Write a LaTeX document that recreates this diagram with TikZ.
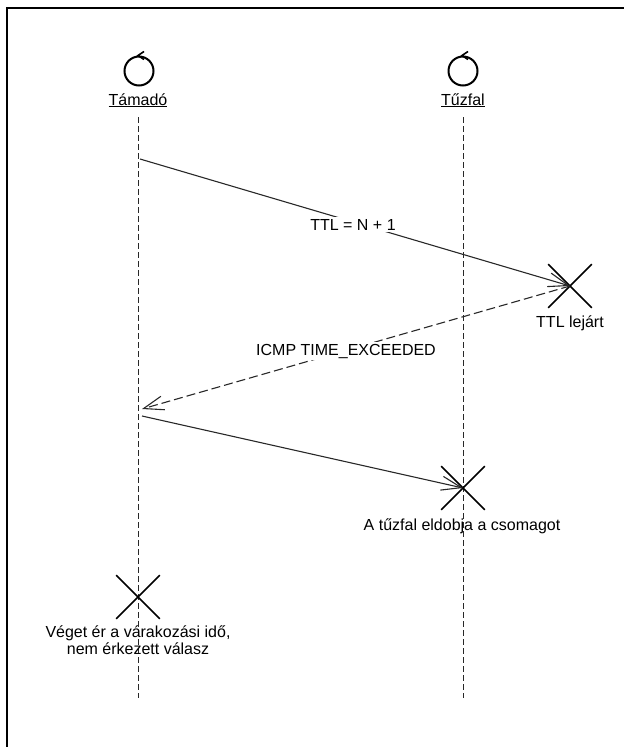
\documentclass[tikz,border=0pt]{standalone}
\usepackage{fontspec}
\setmainfont{Liberation Sans}
\usetikzlibrary{arrows.meta,shapes.misc}
\definecolor{ln}{RGB}{40,40,40}
\begin{document}
\begin{tikzpicture}[x=1pt,y=-1pt,
  actor/.style={circle,draw=black,line width=2pt,minimum size=29pt,inner sep=0pt},
  alabel/.style={font=\fontsize{16}{17}\selectfont,inner sep=0pt,anchor=base},
  lifeline/.style={draw=ln,line width=0.9pt,dash pattern=on 6pt off 3pt},
  xmark/.style={cross out,draw=black,line width=1.6pt,minimum size=42pt,inner sep=0pt},
  msg/.style={draw=ln,line width=1.1pt,-{Straight Barb[length=20pt,width=14pt,line width=1.1pt]}},
  rmsg/.style={msg,dash pattern=on 9pt off 4pt},
  txt/.style={font=\fontsize{16}{17}\selectfont,inner sep=0pt,anchor=base,align=center},
  mlabel/.style={txt,fill=white,inner sep=2pt}]
\useasboundingbox (0,0) rectangle (624,747);
% frame (open at right and bottom, as in the reference)
\draw[line width=2pt] (7,747) -- (7,8) -- (624,8);
% actors
\node[actor] (a) at (139,71) {};
\node[actor] (f) at (463,71) {};
\draw[line width=1.6pt] (a.north) ++(5,-4) -- ++(-6,4) -- ++(6,4);
\draw[line width=1.6pt] (f.north) ++(5,-4) -- ++(-6,4) -- ++(6,4);
\node[alabel] (al) at (138,105) {\underline{Támadó}};
\node[alabel] (fl) at (463,105) {\underline{Tűzfal}};
% lifelines
\coordinate (aend) at (138,698);
\coordinate (fend) at (463,698);
\draw[lifeline] (138,117) -- (aend);
\draw[lifeline] (463,117) -- (fend);
% destruction marks
\node[xmark] (x1) at (570,286) {};
\node[xmark] (x2) at (463,488) {};
\node[xmark] (x3) at (138,597) {};
% message anchors on the attacker lifeline
\coordinate (s1) at (140,159);
\coordinate (s2) at (142,409);
\coordinate (s3) at (142,416);
% messages
\draw[msg] (s1) -- (x1.center);
\node[mlabel] (l1) at (353,230) {TTL = N + 1};
\draw[rmsg] (x1.center) -- (s2);
\node[mlabel] (l2) at (346,355) {ICMP TIME\_EXCEEDED};
\draw[msg] (s3) -- (x2.center);
% notes
\node[txt] (n1) at (570,327) {TTL lejárt};
\node[txt] (n2) at (462,530) {A tűzfal eldobja a csomagot};
\node[txt] (n3) at (138,654) {Véget ér a várakozási idő,\\nem érkezett válasz};
\end{tikzpicture}
\end{document}
